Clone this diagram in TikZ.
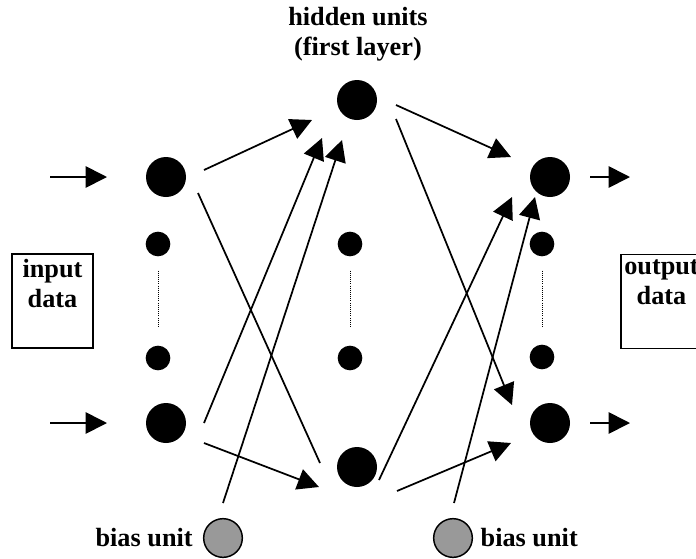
\documentclass[tikz,border=0pt]{standalone}
\usepackage{fontspec}
\setmainfont{Liberation Serif}
\usetikzlibrary{arrows.meta,calc,positioning}
\definecolor{biasgray}{RGB}{153,153,153}

\begin{document}
\begin{tikzpicture}[x=0.75pt,y=-0.75pt,
    neuron/.style={circle,fill=black,inner sep=0pt,minimum size=30pt},
    smallneuron/.style={circle,fill=black,inner sep=0pt,minimum size=18.5pt},
    biasneuron/.style={circle,draw=black,line width=1.1pt,fill=biasgray,inner sep=0pt,minimum size=29pt},
    databox/.style={draw,line width=1.2pt,minimum width=60.75pt,minimum height=70.5pt,inner sep=0pt},
    lbl/.style={font=\fontsize{19.7pt}{22.5pt}\selectfont\bfseries,align=center,inner sep=0pt},
    link/.style={line width=1.3pt,-{Triangle[length=16pt,width=16pt]}},
    wire/.style={line width=1.3pt},
    gapdots/.style={densely dotted,line width=0.6pt,shorten <=10.5pt,shorten >=13.5pt}]
  \useasboundingbox (0,0) rectangle (696,558);

  % Input layer
  \node[neuron] (in1) at (166,177) {};
  \node[smallneuron] (in2) at (158,244) {};
  \node[smallneuron] (in3) at (158,358) {};
  \node[neuron] (in4) at (166,423) {};
  \draw[gapdots] (in2.south) -- (in3.north);

  % Hidden layer
  \node[neuron] (h1) at (357,100) {};
  \node[smallneuron] (h2) at (350,244) {};
  \node[smallneuron] (h3) at (350,358) {};
  \node[neuron] (h4) at (357,467) {};
  \draw[gapdots] (h2.south) -- (h3.north);
  \node[lbl] (hidtext) at (358,34) {hidden units\\(first layer)};

  % Output layer
  \node[neuron] (out1) at (550,177) {};
  \node[smallneuron] (out2) at (542,244) {};
  \node[smallneuron] (out3) at (542,357) {};
  \node[neuron] (out4) at (550,423) {};
  \draw[gapdots] (out2.south) -- (out3.north);

  % Bias units
  \node[biasneuron] (b1) at (223,538) {};
  \node[biasneuron] (b2) at (453,538) {};
  \node[lbl, left=7.5pt of b1] (b1text) {bias unit};
  \node[lbl, right=5.5pt of b2] (b2text) {bias unit};

  % Data boxes
  \node[databox] (inbox) at (52.5,301) {};
  \node[lbl, below=4.5pt of inbox.north] (intext) {input\\data};
  \node[databox] (outbox) at (661.5,301.5) {};
  \node[lbl, below=4.5pt of outbox.north] (outtext) {output\\data};

  % Data in and out
  \coordinate (src1) at (50,177);
  \coordinate (src2) at (50,423);
  \coordinate (dst1) at (630,177);
  \coordinate (dst2) at (630,423);
  \draw[link] (src1) -- ($(in1)+(-59,0)$);
  \draw[link] (src2) -- ($(in4)+(-59,0)$);
  \draw[link] ($(out1)+(40,0)$) -- (dst1);
  \draw[link] ($(out4)+(40,0)$) -- (dst2);

  % Input -> hidden
  \draw[link] ($(in1)+(38,-7)$) -- ($(h1)+(-45,20)$);
  \draw[wire] ($(in1)+(32,16)$) -- ($(h4)+(-37,-4)$);
  \draw[link] ($(in4)+(38,0)$) -- ($(h1)+(-35,38)$);
  \draw[link] ($(in4)+(38,20)$) -- ($(h4)+(-38,20)$);
  \draw[link] ($(b1)+(0,-35)$) -- ($(h1)+(-15,40)$);

  % Hidden -> output
  \draw[link] ($(h1)+(39,5)$) -- ($(out1)+(-39,-20)$);
  \draw[link] ($(h1)+(39,19)$) -- ($(out4)+(-38,-18)$);
  \draw[link] ($(h4)+(22,13)$) -- ($(out1)+(-38,20)$);
  \draw[link] ($(h4)+(40,24)$) -- ($(out4)+(-39,20)$);
  \draw[link] ($(b2)+(1,-35)$) -- ($(out1)+(-15,20)$);
\end{tikzpicture}
\end{document}
